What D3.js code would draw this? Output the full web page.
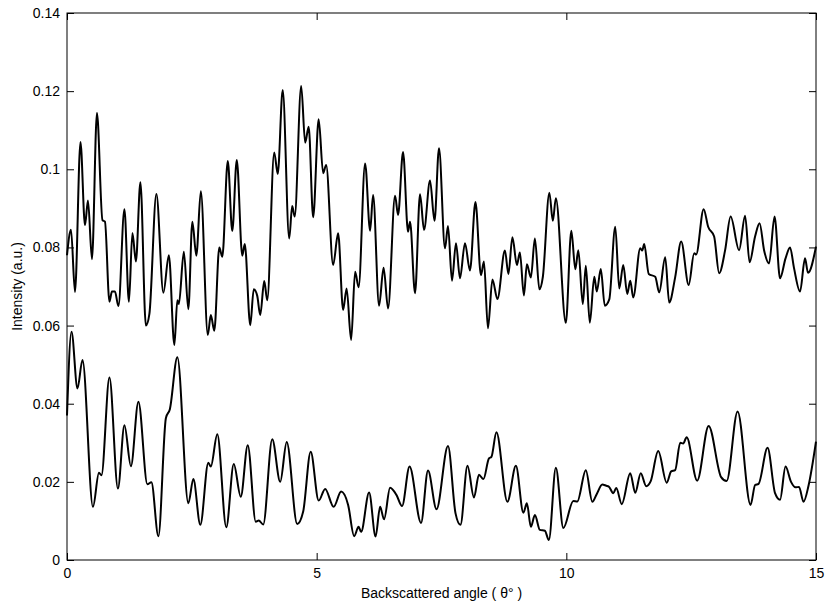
<!DOCTYPE html>
<html>
<head>
<meta charset="utf-8">
<script src="https://cdn.jsdelivr.net/npm/d3@7"></script>
<style>
  body { margin: 0; background: #fff; }
  svg { display: block; }
  text { font-family: "Liberation Sans", Arial, Helvetica, sans-serif; }
</style>
</head>
<body>
<svg id="chart" width="826" height="606"></svg>
<script>
const xTicks = [0, 5, 10, 15];
const yTicks = [0, 0.02, 0.04, 0.06, 0.08, 0.1, 0.12, 0.14];
const xLabel = "Backscattered angle ( \u03b8\u00b0 )";
const yLabel = "Intensity (a.u.)";

const upperX = [0,0.08,0.16,0.27,0.36,0.42,0.50,0.60,0.71,0.76,0.85,0.90,0.96,1.03,1.15,1.24,1.31,1.38,1.47,1.58,1.65,1.79,1.93,2.04,2.15,2.21,2.24,2.34,2.43,2.51,2.59,2.68,2.82,2.88,2.95,3.05,3.11,3.22,3.31,3.40,3.51,3.56,3.67,3.74,3.81,3.87,3.95,4.01,4.15,4.22,4.32,4.45,4.51,4.56,4.69,4.77,4.84,4.93,5.04,5.13,5.19,5.33,5.43,5.53,5.60,5.69,5.77,5.84,5.97,6.07,6.13,6.25,6.34,6.43,6.57,6.63,6.73,6.83,6.87,6.97,7.07,7.15,7.27,7.36,7.45,7.57,7.63,7.71,7.79,7.87,7.97,8.07,8.18,8.29,8.35,8.43,8.52,8.62,8.77,8.84,8.92,9.01,9.07,9.15,9.21,9.29,9.37,9.46,9.53,9.66,9.73,9.79,9.99,10.10,10.18,10.24,10.33,10.39,10.47,10.56,10.61,10.69,10.77,10.86,10.98,11.06,11.14,11.22,11.28,11.34,11.48,11.52,11.56,11.65,11.78,11.86,11.98,12.06,12.18,12.30,12.45,12.56,12.60,12.75,12.84,12.96,13.06,13.18,13.29,13.46,13.58,13.67,13.78,13.87,13.96,14.06,14.17,14.28,14.39,14.48,14.56,14.68,14.78,14.84,15.0];
const upperY = [0.078,0.0845,0.0686,0.107,0.0857,0.092,0.077,0.1144,0.087,0.0866,0.0661,0.0687,0.0687,0.065,0.0898,0.0661,0.0837,0.0764,0.0967,0.060,0.063,0.0937,0.0684,0.078,0.055,0.0665,0.0655,0.0789,0.0642,0.0866,0.0779,0.0944,0.0576,0.0627,0.0587,0.080,0.0776,0.1021,0.0842,0.1024,0.0779,0.0809,0.0601,0.0693,0.0676,0.0627,0.0714,0.0665,0.1043,0.0988,0.1203,0.0823,0.0906,0.0879,0.1213,0.1068,0.1109,0.0877,0.1128,0.099,0.1011,0.0755,0.0836,0.064,0.0695,0.0563,0.0738,0.0698,0.1015,0.0843,0.0934,0.0651,0.0748,0.0644,0.0932,0.0883,0.1044,0.084,0.0866,0.0683,0.0936,0.0845,0.0971,0.0868,0.1054,0.0798,0.0855,0.0715,0.0811,0.0721,0.0811,0.0741,0.0916,0.0729,0.0764,0.0593,0.0718,0.0668,0.0792,0.0732,0.0826,0.0755,0.0787,0.0677,0.0757,0.0723,0.0823,0.0693,0.0725,0.094,0.0868,0.0926,0.0607,0.0843,0.0744,0.0793,0.0655,0.0753,0.0607,0.0725,0.0687,0.0745,0.0651,0.0667,0.0853,0.0695,0.0755,0.0681,0.0715,0.0672,0.0798,0.0792,0.0809,0.0732,0.0725,0.0685,0.0775,0.0659,0.0724,0.0815,0.0704,0.0785,0.0782,0.0898,0.0853,0.0828,0.0734,0.0793,0.0879,0.0793,0.0881,0.0762,0.0828,0.0862,0.0793,0.0759,0.0879,0.0721,0.0772,0.080,0.0747,0.0687,0.0772,0.0735,0.0802];

const lowerX = [0,0.09,0.21,0.31,0.52,0.64,0.69,0.85,1.02,1.15,1.28,1.43,1.61,1.69,1.83,1.98,2.06,2.21,2.43,2.53,2.67,2.83,2.88,3.01,3.19,3.34,3.48,3.62,3.78,3.84,3.93,4.11,4.27,4.40,4.61,4.73,4.88,5.04,5.17,5.34,5.49,5.63,5.75,5.84,5.89,6.05,6.18,6.27,6.35,6.47,6.60,6.71,6.86,7.09,7.23,7.40,7.63,7.78,7.88,8.02,8.15,8.25,8.34,8.45,8.50,8.60,8.82,8.99,9.14,9.21,9.29,9.37,9.47,9.57,9.65,9.79,9.94,10.14,10.22,10.39,10.52,10.61,10.72,10.80,10.85,10.94,11.00,11.11,11.28,11.38,11.49,11.60,11.69,11.84,12.01,12.10,12.18,12.28,12.34,12.41,12.62,12.85,13.10,13.21,13.43,13.69,13.78,13.85,14.03,14.18,14.28,14.39,14.50,14.59,14.66,14.75,14.85,15.0];
const lowerY = [0.037,0.0584,0.0439,0.0512,0.0136,0.0223,0.0217,0.0467,0.0183,0.0345,0.024,0.0405,0.0194,0.0199,0.0061,0.0363,0.0386,0.0519,0.0145,0.0207,0.009,0.0249,0.0239,0.0322,0.0084,0.0246,0.0162,0.0294,0.0098,0.0101,0.0091,0.0309,0.02,0.0302,0.0092,0.0124,0.0277,0.0152,0.0182,0.0136,0.0175,0.0141,0.0061,0.0085,0.0072,0.0173,0.006,0.0136,0.0104,0.0185,0.0166,0.0138,0.0239,0.0095,0.0229,0.013,0.0292,0.012,0.009,0.0241,0.016,0.0218,0.0207,0.026,0.0264,0.0327,0.0149,0.0241,0.0121,0.0145,0.0085,0.0115,0.0077,0.0075,0.0051,0.0236,0.0082,0.0151,0.015,0.023,0.0149,0.0169,0.0193,0.019,0.0188,0.0171,0.0184,0.0143,0.0222,0.0172,0.0222,0.0189,0.0202,0.0279,0.0198,0.0227,0.023,0.030,0.0298,0.0314,0.0203,0.0343,0.0212,0.0202,0.038,0.0141,0.0192,0.0195,0.0287,0.0171,0.0154,0.0239,0.020,0.0186,0.0187,0.0149,0.019,0.0303];

const svg = d3.select("#chart");
const m = { left: 67, top: 13, right: 816, bottom: 560 };
const x = d3.scaleLinear().domain([0, 15]).range([m.left, m.right]);
const y = d3.scaleLinear().domain([0, 0.14]).range([m.bottom, m.top]);

const fmtY = d => d === 0 ? "0" : String(+d.toFixed(2));

// series
const line = d3.line().x(d => x(d[0])).y(d => y(d[1])).curve(d3.curveMonotoneX);
const g = svg.append("g");
[[upperX, upperY], [lowerX, lowerY]].forEach(([xs, ys]) => {
  g.append("path")
    .datum(xs.map((v, i) => [v, ys[i]]))
    .attr("d", line)
    .attr("fill", "none")
    .attr("stroke", "#000")
    .attr("stroke-width", 2)
    .attr("stroke-linejoin", "round");
});

// axes
const ax = (gen, tx, ty) => {
  const a = svg.append("g").attr("transform", `translate(${tx},${ty})`).call(gen);
  a.select(".domain").remove();
  a.selectAll("line").attr("stroke", "#000");
  a.selectAll("text").attr("font-size", 14).attr("fill", "#000")
    .attr("font-family", '"Liberation Sans", Arial, sans-serif');
  return a;
};
ax(d3.axisBottom(x).tickValues(xTicks).tickSize(-7).tickPadding(8).tickFormat(d3.format("d")), 0, m.bottom);
ax(d3.axisTop(x).tickValues(xTicks).tickSize(-7).tickFormat(""), 0, m.top);
ax(d3.axisLeft(y).tickValues(yTicks).tickSize(-7).tickPadding(7).tickFormat(fmtY), m.left, 0);
ax(d3.axisRight(y).tickValues(yTicks).tickSize(-7).tickFormat(""), m.right, 0);

svg.append("rect")
  .attr("x", m.left).attr("y", m.top)
  .attr("width", m.right - m.left).attr("height", m.bottom - m.top)
  .attr("fill", "none").attr("stroke", "#000").attr("stroke-width", 1);

svg.append("text")
  .attr("x", (m.left + m.right) / 2).attr("y", 598)
  .attr("text-anchor", "middle").attr("font-size", 14)
  .text(xLabel);

svg.append("text")
  .attr("transform", `translate(22,${(m.top + m.bottom) / 2}) rotate(-90)`)
  .attr("text-anchor", "middle").attr("font-size", 14)
  .text(yLabel);
</script>
</body>
</html>
